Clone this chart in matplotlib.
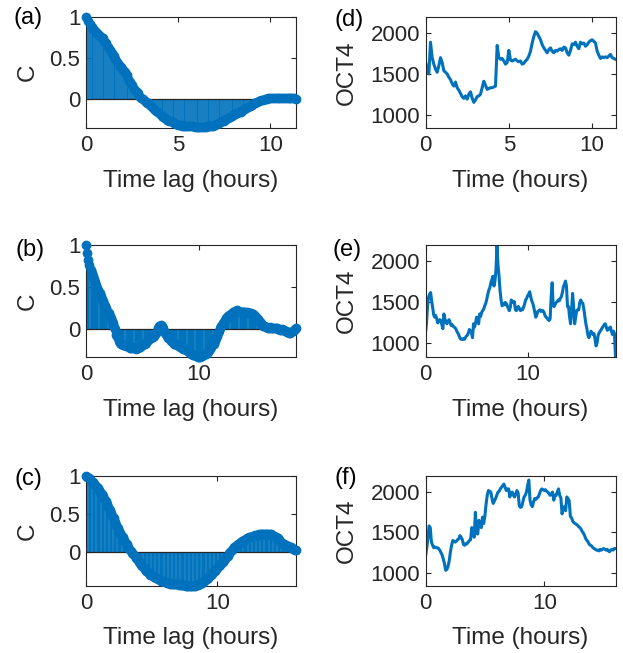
import numpy as np
import matplotlib.pyplot as plt

plt.rcParams['font.family'] = ['Liberation Sans', 'DejaVu Sans']

BLUE = '#0072BD'
DARK = '#262626'

# sampling interval (hours) shared by all traces
dt = 0.1

# autocorrelation, cell 1 (a)
c_a = [1.00, 0.95, 0.91, 0.88, 0.85, 0.83, 0.80, 0.78, 0.76, 0.74,
       0.71, 0.68, 0.64, 0.60, 0.56, 0.52, 0.49, 0.45, 0.42, 0.39,
       0.36, 0.33, 0.29, 0.25, 0.21, 0.17, 0.13, 0.10, 0.07, 0.04,
       0.02, 0.00, -0.02, -0.04, -0.05, -0.07, -0.09, -0.12, -0.14, -0.16,
       -0.18, -0.20, -0.22, -0.23, -0.25, -0.26, -0.27, -0.28, -0.29, -0.30,
       -0.31, -0.31, -0.32, -0.32, -0.32, -0.33, -0.33, -0.33, -0.33, -0.34,
       -0.34, -0.34, -0.34, -0.34, -0.34, -0.34, -0.33, -0.33, -0.33, -0.32,
       -0.31, -0.30, -0.29, -0.28, -0.27, -0.26, -0.24, -0.23, -0.22, -0.21,
       -0.19, -0.18, -0.17, -0.16, -0.15, -0.13, -0.12, -0.11, -0.09, -0.08,
       -0.07, -0.05, -0.04, -0.03, -0.02, -0.01, -0.01, 0.00, 0.00, 0.01,
       0.01, 0.01, 0.01, 0.01, 0.01, 0.02, 0.02, 0.01, 0.01, 0.01,
       0.01, 0.01, 0.01, 0.01, 0.00]

# autocorrelation, cell 2 (b)
c_b = [1.00, 0.90, 0.82, 0.76, 0.70, 0.67, 0.63, 0.60, 0.56, 0.52,
       0.49, 0.46, 0.43, 0.40, 0.36, 0.33, 0.30, 0.27, 0.25, 0.22,
       0.19, 0.16, 0.13, 0.10, 0.07, 0.03, 0.00, -0.07, -0.11, -0.14,
       -0.16, -0.17, -0.18, -0.19, -0.19, -0.20, -0.19, -0.20, -0.21, -0.22,
       -0.22, -0.21, -0.22, -0.22, -0.23, -0.22, -0.22, -0.21, -0.21, -0.20,
       -0.19, -0.18, -0.17, -0.16, -0.14, -0.13, -0.12, -0.11, -0.10, -0.09,
       -0.08, -0.06, -0.04, -0.02, 0.01, 0.04, 0.05, 0.04, 0.01, -0.02,
       -0.04, -0.06, -0.08, -0.10, -0.12, -0.14, -0.13, -0.15, -0.17, -0.18,
       -0.17, -0.19, -0.20, -0.21, -0.20, -0.22, -0.23, -0.22, -0.24, -0.25,
       -0.26, -0.27, -0.28, -0.29, -0.30, -0.31, -0.31, -0.32, -0.32, -0.33,
       -0.33, -0.33, -0.32, -0.32, -0.31, -0.30, -0.29, -0.28, -0.27, -0.25,
       -0.23, -0.21, -0.19, -0.17, -0.14, -0.11, -0.08, -0.05, -0.02, 0.01,
       0.04, 0.07, 0.09, 0.11, 0.13, 0.15, 0.16, 0.17, 0.18, 0.19,
       0.20, 0.21, 0.22, 0.22, 0.23, 0.22, 0.21, 0.21, 0.20, 0.20,
       0.20, 0.20, 0.19, 0.20, 0.19, 0.19, 0.19, 0.18, 0.18, 0.17,
       0.16, 0.14, 0.12, 0.10, 0.08, 0.07, 0.05, 0.04, 0.04, 0.03,
       0.03, 0.02, 0.02, 0.03, 0.02, 0.02, 0.02, 0.01, 0.01, 0.01,
       0.00, 0.00, -0.01, -0.01, 0.00, -0.01, -0.02, -0.02, -0.03, -0.03,
       -0.04, -0.04, -0.03, -0.02, -0.01, 0.00, 0.02]

# autocorrelation, cell 3 (c)
c_c = [1.00, 0.99, 0.97, 0.96, 0.94, 0.92, 0.90, 0.88, 0.86, 0.84,
       0.81, 0.79, 0.76, 0.73, 0.70, 0.67, 0.63, 0.59, 0.55, 0.51,
       0.47, 0.44, 0.40, 0.36, 0.32, 0.28, 0.25, 0.22, 0.19, 0.16,
       0.13, 0.10, 0.07, 0.04, 0.01, -0.01, -0.03, -0.06, -0.08, -0.10,
       -0.13, -0.15, -0.17, -0.19, -0.21, -0.23, -0.25, -0.27, -0.28, -0.30,
       -0.31, -0.32, -0.33, -0.34, -0.35, -0.36, -0.37, -0.38, -0.38, -0.39,
       -0.40, -0.40, -0.41, -0.41, -0.42, -0.42, -0.42, -0.43, -0.43, -0.43,
       -0.43, -0.44, -0.44, -0.44, -0.44, -0.44, -0.45, -0.45, -0.45, -0.45,
       -0.45, -0.45, -0.45, -0.45, -0.44, -0.44, -0.43, -0.42, -0.41, -0.40,
       -0.39, -0.37, -0.36, -0.34, -0.32, -0.31, -0.29, -0.27, -0.25, -0.23,
       -0.21, -0.19, -0.17, -0.15, -0.13, -0.11, -0.09, -0.07, -0.05, -0.02,
       0.00, 0.02, 0.04, 0.06, 0.08, 0.09, 0.11, 0.12, 0.13, 0.14,
       0.15, 0.16, 0.17, 0.18, 0.19, 0.20, 0.20, 0.21, 0.21, 0.22,
       0.22, 0.22, 0.23, 0.23, 0.23, 0.24, 0.24, 0.24, 0.24, 0.24,
       0.23, 0.23, 0.22, 0.21, 0.20, 0.19, 0.18, 0.16, 0.14, 0.12,
       0.11, 0.10, 0.09, 0.08, 0.08, 0.07, 0.06, 0.05, 0.04, 0.03,
       0.02]

# OCT4 traces
oct_d = [1650, 1560, 1500, 1890, 1700, 1620, 1560, 1520, 1600, 1700,
         1640, 1540, 1520, 1500, 1460, 1430, 1380, 1350, 1400, 1330,
         1300, 1260, 1220, 1200, 1230, 1190, 1250, 1280, 1200, 1150,
         1180, 1220, 1230, 1250, 1330, 1410, 1360, 1310, 1320, 1330,
         1330, 1340, 1350, 1850, 1700, 1680, 1690, 1660, 1620, 1640,
         1790, 1670, 1660, 1670, 1680, 1660, 1650, 1660, 1620, 1630,
         1660, 1680, 1720, 1780, 1880, 1960, 2020, 2000, 1960, 1920,
         1860, 1820, 1790, 1760, 1800, 1820, 1780, 1760, 1790, 1780,
         1800, 1810, 1790, 1830, 1820, 1760, 1730, 1790, 1870, 1860,
         1890, 1840, 1810, 1890, 1870, 1880, 1840, 1860, 1890, 1910,
         1920, 1900, 1880, 1780, 1730, 1690, 1710, 1700, 1710, 1700,
         1720, 1740, 1700, 1690, 1680]

oct_e = [1130, 1250, 1450, 1560, 1600, 1620, 1520, 1440, 1350, 1320,
         1340, 1300, 1250, 1270, 1290, 1280, 1230, 1180, 1360, 1300,
         1260, 1240, 1270, 1290, 1260, 1220, 1230, 1210, 1200, 1190,
         1170, 1140, 1120, 1090, 1060, 1050, 1050, 1060, 1050, 1070,
         1090, 1100, 1130, 1170, 1150, 1130, 1070, 1240, 1200, 1250,
         1320, 1300, 1240, 1360, 1330, 1380, 1400, 1420, 1460, 1490,
         1540, 1600, 1650, 1680, 1740, 1780, 1820, 1700, 1760, 1900,
         2190, 1950, 1820, 1640, 1530, 1460, 1480, 1470, 1500, 1490,
         1460, 1430, 1400, 1440, 1530, 1510, 1500, 1510, 1410, 1400,
         1440, 1450, 1420, 1400, 1420, 1410, 1440, 1480, 1530, 1550,
         1580, 1600, 1630, 1570, 1520, 1490, 1440, 1380, 1320, 1350,
         1390, 1400, 1410, 1390, 1400, 1400, 1380, 1340, 1320, 1310,
         1290, 1280, 1300, 1560, 1740, 1460, 1450, 1480, 1500, 1510,
         1530, 1520, 1550, 1570, 1620, 1690, 1720, 1760, 1700, 1450,
         1450, 1330, 1240, 1400, 1610, 1450, 1240, 1320, 1400, 1410,
         1410, 1500, 1530, 1500, 1490, 1420, 1330, 1240, 1180, 1100,
         1070, 1110, 1150, 1130, 1110, 1120, 1050, 970, 1010, 1100,
         1130, 1150, 1170, 1190, 1210, 1230, 1240, 1200, 1160, 1170,
         1190, 1200, 1150, 1110, 1150, 1120, 830]

oct_f = [1200, 1300, 1420, 1580, 1560, 1380, 1340, 1310, 1320, 1310,
         1310, 1300, 1280, 1250, 1220, 1170, 1110, 1030, 1040, 1080,
         1150, 1260, 1340, 1400, 1390, 1380, 1390, 1410, 1420, 1460,
         1440, 1410, 1350, 1340, 1360, 1360, 1380, 1400, 1410, 1560,
         1480, 1440, 1750, 1490, 1480, 1650, 1580, 1560, 1690, 1610,
         1700, 1850, 1960, 2020, 2010, 2000, 1920, 1860, 1890, 1920,
         1960, 2000, 2010, 2040, 2060, 2080, 2100, 2060, 2020, 2040,
         2040, 1940, 1990, 2000, 1960, 1940, 1980, 2020, 1990, 1830,
         1810, 1820, 1880, 1940, 1960, 2000, 2080, 2150, 1900, 1840,
         1820, 1880, 1920, 1910, 1930, 1940, 1980, 2020, 2040, 2030,
         2020, 2030, 2010, 2000, 1980, 1960, 1980, 2000, 1900, 1960,
         1960, 2000, 2040, 1960, 1930, 1730, 1800, 1820, 1770, 1940,
         1920, 1890, 1700, 1680, 1640, 1620, 1610, 1600, 1590, 1570,
         1560, 1540, 1510, 1490, 1460, 1420, 1400, 1380, 1350, 1340,
         1330, 1310, 1300, 1290, 1280, 1280, 1270, 1290, 1280, 1290,
         1300, 1290, 1280, 1290, 1270, 1260, 1280, 1290, 1280, 1300,
         1300]

corr_sets = [c_a, c_b, c_c]
oct_sets = [oct_d, oct_e, oct_f]
corr_names = ['(a)', '(b)', '(c)']
oct_names = ['(d)', '(e)', '(f)']
corr_xticks = [[0, 5, 10], [0, 10], [0, 10]]
corr_ymin = [-0.35, -0.33, -0.45]

W, H = 623, 653
fig = plt.figure(figsize=(W / 100, H / 100), dpi=100)

# pixel boxes: (top, bottom) per row
rows_px = [(17, 128), (245, 357), (476, 586)]
left_px = (86, 296)
right_px = (425.5, 615.5)

TICK_FS = 16
LABEL_FS = 17.5


def make_axes(xpx, ypx):
    x0, x1 = xpx
    top, bot = ypx
    return fig.add_axes([x0 / W, 1 - bot / H, (x1 - x0) / W, (bot - top) / H])


def style(ax):
    for s in ax.spines.values():
        s.set_color(DARK)
        s.set_linewidth(0.8)
    ax.tick_params(direction='in', top=True, right=True, length=3.5, width=0.8,
                   colors=DARK, labelsize=TICK_FS, pad=5)
    ax.tick_params(axis='y', pad=4)


for i in range(3):
    # autocorrelation stem plot
    c = np.array(corr_sets[i])
    lag = np.arange(len(c)) * dt
    ax = make_axes(left_px, rows_px[i])
    markers, stems, base = ax.stem(lag, c, basefmt=' ')
    stems.set_color(BLUE)
    stems.set_linewidth(1.3)
    stems.set_zorder(2)
    markers.set_color(BLUE)
    markers.set_markersize(6)
    markers.set_zorder(4)
    markers.set_clip_on(False)
    ax.axhline(0, color=DARK, linewidth=0.9, zorder=3)
    ax.set_xlim(0, lag[-1])
    ax.set_ylim(corr_ymin[i], 1)
    ax.set_xticks(corr_xticks[i])
    ax.set_yticks([0, 0.5, 1])
    ax.set_yticklabels(['0', '0.5', '1'])
    style(ax)
    ax.set_xlabel('Time lag (hours)', fontsize=LABEL_FS, color=DARK, va='center')
    ax.xaxis.set_label_coords(0.5, -0.477)
    ax.set_ylabel('C', fontsize=LABEL_FS, color=DARK, va='center')
    ax.yaxis.set_label_coords(-0.279, 0.5)

    # OCT4 time trace
    y = np.array(oct_sets[i])
    t = np.arange(len(y)) * dt
    ax2 = make_axes(right_px, rows_px[i])
    ax2.plot(t, y, color=BLUE, linewidth=2.2)
    ax2.set_xlim(0, t[-1])
    ax2.set_ylim(835, 2200)
    ax2.set_xticks(corr_xticks[i])
    ax2.set_yticks([1000, 1500, 2000])
    style(ax2)
    ax2.set_xlabel('Time (hours)', fontsize=LABEL_FS, color=DARK, va='center')
    ax2.xaxis.set_label_coords(0.5, -0.477)
    ax2.set_ylabel('OCT4', fontsize=LABEL_FS, color=DARK, va='center')
    ax2.yaxis.set_label_coords(-0.413, 0.5)

# panel letters
letter_px = [(28, 18), (30, 250), (28, 479)]
letter_px_r = [(349, 20), (347, 250), (346, 478)]
for i in range(3):
    fig.text(letter_px[i][0] / W, 1 - letter_px[i][1] / H, corr_names[i],
             ha='center', va='center', fontsize=17, color='black')
    fig.text(letter_px_r[i][0] / W, 1 - letter_px_r[i][1] / H, oct_names[i],
             ha='center', va='center', fontsize=17, color='black')

fig.savefig('out.png', dpi=100)
